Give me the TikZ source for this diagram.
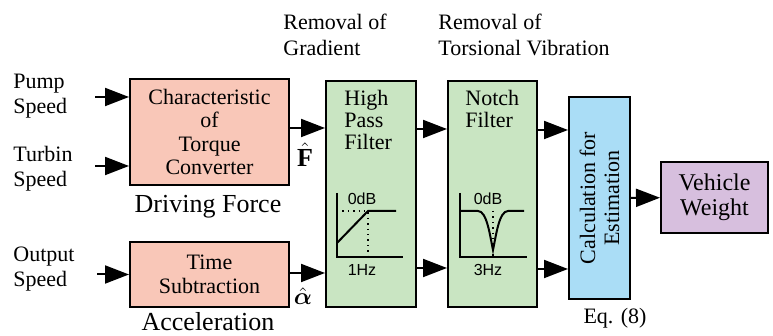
\documentclass[tikz,border=0pt]{standalone}
\usepackage{fontspec}
\setmainfont{Liberation Serif}
\newfontfamily\graphfont{Liberation Sans}
\usepackage{amsmath}
\usetikzlibrary{positioning, arrows.meta}

\definecolor{tcsalmon}{RGB}{249,199,184}
\definecolor{filtgreen}{RGB}{201,229,194}
\definecolor{calcblue}{RGB}{170,221,246}
\definecolor{vwpurple}{RGB}{215,191,222}

\begin{document}
\begin{tikzpicture}[x=0.5pt, y=0.5pt,
  block/.style={rectangle, draw, line width=1pt, align=center, font=\fontsize{11}{11.8}\selectfont},
  sig/.style={-{Triangle[length=12pt,width=9pt]}, line width=1pt},
  lbl/.style={align=left, inner sep=0pt, font=\fontsize{11}{12.5}\selectfont},
  graphtxt/.style={inner sep=0pt, font=\graphfont\fontsize{8}{9}\selectfont},
  curve/.style={line width=1pt},
  guide/.style={dotted, line width=0.7pt}]
\useasboundingbox (0,0) rectangle (773,336);

% Blocks
\node[block, fill=tcsalmon, minimum width=79.5pt, minimum height=53pt] (tc) at (209.5,204) {Characteristic\\of\\Torque\\Converter};
\node[block, fill=tcsalmon, minimum width=79.5pt, minimum height=32.5pt] (ts) at (209.5,61.5) {Time\\Subtraction};
\node[block, fill=filtgreen, minimum width=45pt, minimum height=113pt] (hpf) at (371,142) {};
\node[block, fill=filtgreen, minimum width=44.5pt, minimum height=113pt] (notch) at (492.5,142) {};
\node[block, fill=calcblue, minimum width=30.5pt, minimum height=101pt] (calc) at (599.5,138) {};
\node[block, fill=vwpurple, minimum width=53.5pt, minimum height=35.5pt, font=\fontsize{12}{12.5}\selectfont] (vw) at (714.5,138.5) {Vehicle\\Weight};

% Texts in the blocks
\node[lbl, anchor=west, font=\fontsize{11}{11}\selectfont] (hpftxt) at (344,216) {High\\Pass\\Filter};
\node[lbl, anchor=west, font=\fontsize{11}{11}\selectfont] (notchtxt) at (465,227) {Notch\\Filter};
\node[rotate=90, align=center, font=\fontsize{11}{12}\selectfont] (calctxt) at (calc) {Calculation for\\Estimation};

% Inputs
\node[lbl, anchor=west] (pump) at (13,240) {Pump\\Speed};
\node[lbl, anchor=west] (turbin) at (13,167.5) {Turbin\\Speed};
\node[lbl, anchor=west] (output) at (13,66.5) {Output\\Speed};
\coordinate (pumpin) at (95,239);
\coordinate (turbinin) at (95,170);
\coordinate (outputin) at (97,61.5);
\draw[sig] (pumpin) -- (pumpin -| tc.west);
\draw[sig] (turbinin) -- (turbinin -| tc.west);
\draw[sig] (outputin) -- (outputin -| ts.west);

% Captions
\node[font=\fontsize{13}{15}\selectfont] (drive) at (208,129) {Driving Force};
\node[font=\fontsize{13}{15}\selectfont] (accel) at (208,14) {Acceleration};
\node[lbl, anchor=west, font=\fontsize{11}{13}\selectfont] (remgrad) at (283,301) {Removal of\\Gradient};
\node[lbl, anchor=west, font=\fontsize{11}{13}\selectfont] (remtors) at (438,301) {Removal of\\Torsional Vibration};
\node[font=\fontsize{11}{13}\selectfont] (eq) at (615,18) {Eq. (8)};
\node[inner sep=0pt, font=\fontsize{13}{14}\selectfont] (fhat) at (305,181) {$\hat{\textbf{F}}$};
\node[inner sep=0pt, font=\fontsize{13}{14}\selectfont] (ahat) at (303,40) {$\hat{\boldsymbol{\alpha}}$};

% Signal flow
\draw[sig] (tc.east |- 0,208) -- (hpf.west |- 0,208);
\draw[sig] (ts.east |- 0,63) -- (hpf.west |- 0,63);
\draw[sig] (hpf.east |- 0,207) -- (notch.west |- 0,207);
\draw[sig] (hpf.east |- 0,68) -- (notch.west |- 0,68);
\draw[sig] (notch.east |- 0,206) -- (calc.west |- 0,206);
\draw[sig] (notch.east |- 0,67) -- (calc.west |- 0,67);
\draw[sig] (calc) -- (vw);

% High pass response
\draw[curve] (337,143) -- (337,79) -- (403,79);
\draw[guide] (337,125) -- (368,125) -- (368,79);
\draw[curve] (337,93) -- (368,125) -- (396,125);
\node[graphtxt] (hpfdb) at (362,137) {0dB};
\node[graphtxt] (hpfhz) at (362,66) {1Hz};

% Notch response
\draw[curve] (460,143) -- (460,79) -- (527,79);
\draw[guide] (493,125) -- (493,79);
\draw[curve] (460,125) -- (478,125) .. controls (487,125) and (490,100) .. (493,86)
  .. controls (496,100) and (499,125) .. (508,125) -- (524,125);
\node[graphtxt] (notchdb) at (488,137) {0dB};
\node[graphtxt] (notchhz) at (488,66) {3Hz};
\end{tikzpicture}
\end{document}
